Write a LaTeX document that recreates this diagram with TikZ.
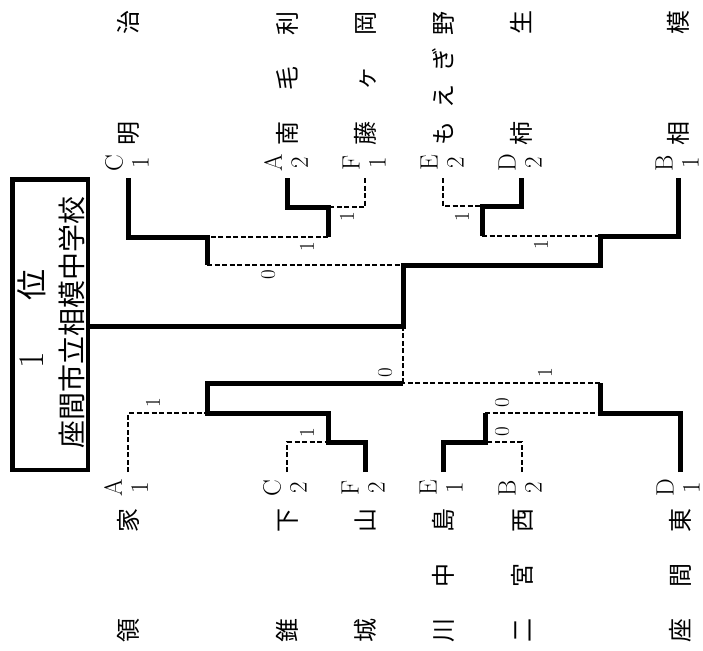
\documentclass[tikz,border=0pt]{standalone}
\usepackage{fontspec}
\newfontfamily\jp{Noto Sans CJK JP}
\tikzset{
  win/.style={line width=5pt},
  lose/.style={line width=2.2pt, dash pattern=on 5pt off 2.5pt},
  seed/.style={rotate=90, align=center, inner sep=0pt, font=\fontsize{25}{26}\selectfont},
  school/.style={rotate=90, inner sep=0pt, font=\jp\fontsize{24}{24}\selectfont},
  score/.style={rotate=90, inner sep=0pt, font=\fontsize{21}{21}\selectfont},
}

\begin{document}
\begin{tikzpicture}[x=1pt,y=-1pt]
\useasboundingbox (0,0) rectangle (703,650);
% winner box
\node[draw, line width=4.5pt, minimum width=75.5pt, minimum height=290.5pt, inner sep=0pt] (champ) at (50,324.5) {};
\node[rotate=90, inner sep=0pt] (rank) at (32,319) {{\fontsize{36}{36}\selectfont 1}\hspace{52pt}{\jp\fontsize{31}{31}\selectfont 位}};
\node[rotate=90, inner sep=0pt, font=\jp\fontsize{28}{28}\selectfont] (winner) at (72,322.5) {座間市立相模中学校};
% teams
\foreach \tm/\x/\num/\nam in {C/128/1/{明\hfill 治}, A/287/2/{南\hfill 毛\hfill 利}, F/365/1/{藤\hfill ヶ\hfill 岡}, E/443/2/{も\hfill え\hfill ぎ\hfill 野}, D/521/2/{柿\hfill 生}, B/678/1/{相\hfill 模}}{
  \coordinate (t\tm) at (\x,178);
  \node[seed] (lt\tm) at (\x-1,163) {\tm\\\num};
  \node[school] (nt\tm) at (\x,78) {\makebox[134pt]{\nam}};
}
\foreach \tm/\x/\num/\nam in {A/128/1/{領\hfill 家}, C/287/2/{錐\hfill 下}, F/365/2/{城\hfill 山}, E/443/1/{川\hfill 中\hfill 島}, B/522/2/{二\hfill 宮\hfill 西}, D/680/1/{座\hfill 間\hfill 東}}{
  \coordinate (b\tm) at (\x,472);
  \node[seed] (lb\tm) at (\x-2,488) {\tm\\\num};
  \node[school] (nb\tm) at (\x,575) {\makebox[134pt]{\nam}};
}
% games
\coordinate (m1) at (328,207);
\coordinate (m2) at (207,237);
\coordinate (m3) at (482,206);
\coordinate (m4) at (600,236);
\coordinate (s1) at (403,265);
\coordinate (m5) at (328,442);
\coordinate (m6) at (207,413);
\coordinate (m7) at (485,442);
\coordinate (m8) at (600,413);
\coordinate (s2) at (403,383);
\coordinate (f) at (403,326);
% lost
\draw[lose] (tF) |- (m1);
\draw[lose] (m1 |- m2) -- (m2);
\draw[lose] (m2 |- s1) -- (s1);
\draw[lose] (tE) |- (m3);
\draw[lose] (m3 |- m4) -- (m4);
\draw[lose] (bC) |- (m5);
\draw[lose] (bA) |- (m6);
\draw[lose] (bB) |- (m7);
\draw[lose] (m7 |- m8) -- (m8);
\draw[lose] (m8 |- s2) -- (s2);
\draw[lose] (s2) -- (f);
% won
\draw[win] (tA) |- (m1) -- (m1 |- m2);
\draw[win] (tC) |- (m2) -- (m2 |- s1);
\draw[win] (tD) |- (m3) -- (m3 |- m4);
\draw[win] (tB) |- (m4) -- (m4 |- s1) -- (s1) -- (f) -- (champ.east |- f);
\draw[win] (bF) |- (m5) -- (m5 |- m6) -- (m6) -- (m6 |- s2) -- (s2);
\draw[win] (bE) |- (m7) -- (m7 |- m8);
\draw[win] (bD) |- (m8) -- (m8 |- s2);
% scores
\foreach \p/\x/\y/\v in {1/347/217/1, 2/307/247/1, 3/268/275/0, 4/462/217/1, 5/541/245/1, 6/153/403/1, 7/307/433/1, 8/502/432/0, 9/502/403/0, 10/385/373/0, 11/545/373/1}
  \node[score] (sc\p) at (\x,\y) {\v};
\end{tikzpicture}
\end{document}
